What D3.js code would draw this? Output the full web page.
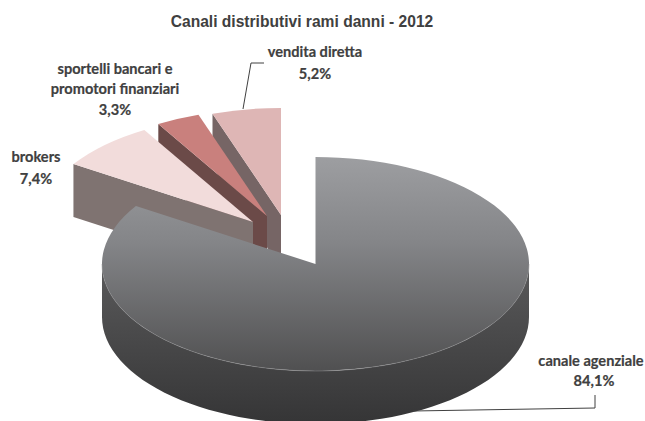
<!DOCTYPE html>
<html><head><meta charset="utf-8">
<script src="https://cdn.jsdelivr.net/npm/d3@7/dist/d3.min.js"></script>
<style>html,body{margin:0;padding:0;background:#fff;overflow:hidden}svg{display:block}</style>
</head><body><svg id="c" width="645" height="421"></svg>
<script>
const title = "Canali distributivi rami danni - 2012";
const categories = ["canale agenziale", "brokers", "sportelli bancari e promotori finanziari", "vendita diretta"];
const shares = [84.1, 7.4, 3.3, 5.2];
const shareLabels = ["84,1%", "7,4%", "3,3%", "5,2%"];

// Layout
const W = 645, H = 421, rx = 213.5, ry = 107, depth = 53;
const apex = [[315.5,264],[253,222],[267,216],[281,215]];
const topCols = ["#9d9ea1","#f2dcdb","#c9807d","#deb6b5"];
const wallCols = [null,"#7f7371","#6b4a48","#766565"];
const labelLines = [["canale agenziale","84,1%"],["brokers","7,4%"],["sportelli bancari e","promotori finanziari","3,3%"],["vendita diretta","5,2%"]];
const labelPos = [[594,366],[36,162],[115,74],[315,57]];
const lineH = [20,22,20.4,22];

const svg = d3.select("#c");
svg.append("text").attr("x",302).attr("y",27).attr("text-anchor","middle")
  .attr("font-family","Liberation Sans").attr("font-weight","bold").attr("font-size",15.6)
  .attr("fill","#404040").text(title);

const defs = svg.append("defs");
const grad = (id,stops)=>{const g=defs.append("linearGradient").attr("id",id).attr("x1",0).attr("y1",0).attr("x2",0).attr("y2",1);
  stops.forEach(([o,c])=>g.append("stop").attr("offset",o).attr("stop-color",c));};
grad("mainTop",[[0,"#9d9ea1"],[0.4,"#848588"],[1,"#505051"]]);
grad("mainWall",[[0,"#5a5a5b"],[1,"#353536"]]);

const pie = d3.pie().sort(null).value(d=>d);
const arcs = pie(shares);
const arc = d3.arc().innerRadius(0).outerRadius(rx);
const pt = (i,a)=>[apex[i][0]+rx*Math.sin(a), apex[i][1]-ry*Math.cos(a)];
const line = d3.line();

// exploded slices, back to front
[3,2,1].forEach(i=>{
  const a0 = arcs[i].startAngle, p = pt(i,a0), q = apex[i];
  svg.append("path").attr("d",line([p,q,[q[0],q[1]+depth],[p[0],p[1]+depth]])+"Z").attr("fill",wallCols[i]);
  svg.append("path").attr("transform",`translate(${q[0]},${q[1]}) scale(1,${ry/rx})`)
    .attr("d",arc(arcs[i])).attr("fill",topCols[i]);
});

// main slice: outer wall on the front half, then top face
const steps = d3.range(0,61).map(k=>Math.PI/2 + k/60*Math.PI);
const rim = steps.map(a=>pt(0,a));
const wall = rim.concat(rim.slice().reverse().map(p=>[p[0],p[1]+depth]));
svg.append("path").attr("d",line(wall)+"Z").attr("fill","url(#mainWall)");
svg.append("path").attr("transform",`translate(${apex[0][0]},${apex[0][1]}) scale(1,${ry/rx})`)
  .attr("d",arc(arcs[0])).attr("fill","url(#mainTop)");
svg.append("path").attr("d",line(rim)).attr("fill","none").attr("stroke","#8c8c8e").attr("stroke-width",0.5);

// leader lines
const leaders = [[[413,411],[595,408],[595,395]],[[243,109],[251,63],[264,63]]];
svg.selectAll("path.leader").data(leaders).join("path").attr("class","leader")
  .attr("d",d=>line(d)).attr("fill","none").attr("stroke","#404040").attr("stroke-width",1);

// labels
labelLines.forEach((ls,i)=>{
  const t = svg.append("text").attr("text-anchor","middle").attr("font-family","Lato")
    .attr("font-weight","bold").attr("font-size",14.6).attr("fill","#404040")
    .attr("stroke","#404040").attr("stroke-width",0.2);
  ls.forEach((s,k)=>t.append("tspan")
    .attr("x",labelPos[i][0]-(i===0&&k===0?3:0))
    .attr("y",labelPos[i][1]+k*lineH[i]).text(s));
});
</script></body></html>
